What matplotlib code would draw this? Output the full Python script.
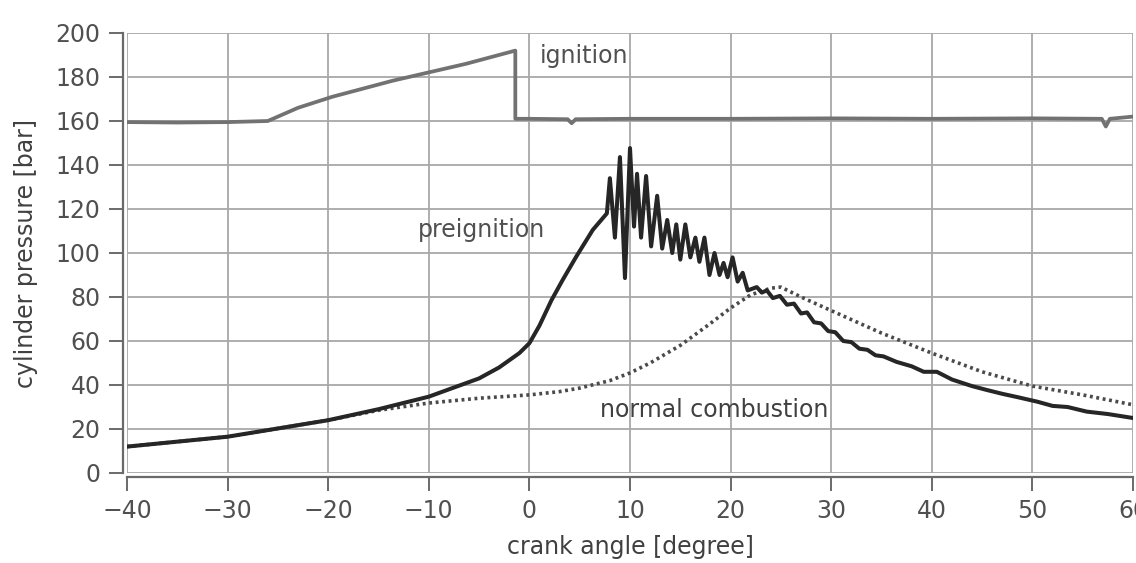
import matplotlib.pyplot as plt
import matplotlib as mp

mp.rcParams['font.family'] = ['DejaVu Sans']
mp.rcParams['font.size'] = 17

# ignition signal (offset trace, top of the plot)
ign_x = [-40, -35, -30, -26, -23, -19.6, -13.6, -6.3, -1.4, -1.4, 0, 3.8, 4.2, 4.6,
         10, 20, 30, 40, 50, 56.9, 57.3, 57.7, 60]
ign_y = [159.5, 159.3, 159.5, 160, 166, 171, 178.3, 186, 192, 161, 161, 160.8, 159, 160.8,
         161, 161, 161.2, 161, 161.2, 161, 157.5, 161, 162]

# cylinder pressure with preignition and knocking
pre_x = [-40, -30, -20, -15, -10, -5, -3, -1, 0, 1, 2.2, 3.3, 4.65, 6.3, 7.7,
         8.0, 8.5, 9.0, 9.5, 10.0, 10.4, 10.7, 11.1, 11.6, 12.1, 12.7, 13.2, 13.7,
         14.2, 14.6, 15.0, 15.5, 16.0, 16.5, 16.9, 17.4, 17.9, 18.4, 18.9, 19.3,
         19.7, 20.2, 20.7, 21.2, 21.7, 22.6, 23.1, 23.6, 24.2, 24.9, 25.6, 26.3,
         27.0, 27.6, 28.3, 29.0, 29.7, 30.4, 31.2, 32.0, 32.8, 33.6, 34.4, 35.2,
         36.5, 38, 39.2, 40.5, 42, 44, 45.5, 47, 48.5, 50.5, 52, 53.5, 55.4, 57.5, 60]
pre_y = [12, 16.5, 24, 29, 34.7, 43, 48, 54.5, 59, 67, 78.6, 87.7, 98.3, 110.5, 118,
         134, 107, 143.6, 88.6, 147.7, 112, 136, 107, 135, 103, 126, 102, 115,
         100, 113, 97, 113, 98, 107, 96, 107, 90, 100, 90, 95.5,
         89, 98, 87, 91, 83, 84.5, 82, 83, 79.5, 80.5, 76.5, 77,
         72.5, 73, 68.5, 68, 64.5, 64, 60, 59.5, 56.5, 56, 53.5, 53,
         50.5, 48.5, 46, 46, 42.5, 39.5, 37.7, 36, 34.5, 32.4, 30.5, 30, 27.9, 26.8, 25]

# cylinder pressure, normal combustion
norm_x = [-40, -30, -20, -15, -12, -10, -5, 0, 3, 5, 8, 10, 12, 15, 18, 20, 22, 24, 25,
          27, 30.4, 35, 40, 45, 50, 55, 60]
norm_y = [12, 16.5, 24, 28.5, 30.5, 31.8, 34, 35.5, 37, 38.6, 42, 45.5, 50, 58, 68, 75,
          81, 84, 84.5, 80, 73, 63.6, 54.5, 46, 39.5, 35.5, 31]

x_ticks = [-40, -30, -20, -10, 0, 10, 20, 30, 40, 50, 60]
y_ticks = [0, 20, 40, 60, 80, 100, 120, 140, 160, 180, 200]

grey_text = '#505050'

fig = plt.figure(figsize=(11.36, 5.63), dpi=100)
ax = fig.add_axes((127 / 1136, 90 / 563, 1006 / 1136, 440 / 563))

ax.plot(norm_x, norm_y, color='#4a4a4a', lw=2.6, ls=(0, (0.8, 1.0)), zorder=3)
ax.plot(pre_x, pre_y, color='#262626', lw=2.9, zorder=4)
ax.plot(ign_x, ign_y, color='#727272', lw=2.7, zorder=4)

ax.set_xlim(-40, 60)
ax.set_ylim(0, 200)
ax.set_xticks(x_ticks)
ax.set_yticks(y_ticks)
ax.grid(True, color='#a8a8a8', lw=1.3)
for gl in ax.get_xgridlines() + ax.get_ygridlines():
    gl.set_clip_on(False)

ax.spines['top'].set_visible(False)
ax.spines['right'].set_visible(False)
for side in ('left', 'bottom'):
    ax.spines[side].set_position(('outward', 3))
    ax.spines[side].set_color('#6a6a6a')
    ax.spines[side].set_linewidth(1.6)
ax.tick_params(direction='out', length=10, width=1.4, color='#6a6a6a',
               labelcolor=grey_text, pad=6)

ax.set_xlabel('crank angle [degree]', color='#404040')
ax.set_ylabel('cylinder pressure [bar]', color='#404040')
ax.xaxis.set_label_coords(0.5, -0.14)
ax.yaxis.set_label_coords(-0.088, 0.5)

ax.text(1.0, 186.3, 'ignition', color=grey_text, va='baseline')
ax.text(-11.1, 107.3, 'preignition', color=grey_text, va='baseline')
ax.text(7.0, 25.6, 'normal combustion', color='#404040', va='baseline')

fig.savefig('out.png', dpi=100)
